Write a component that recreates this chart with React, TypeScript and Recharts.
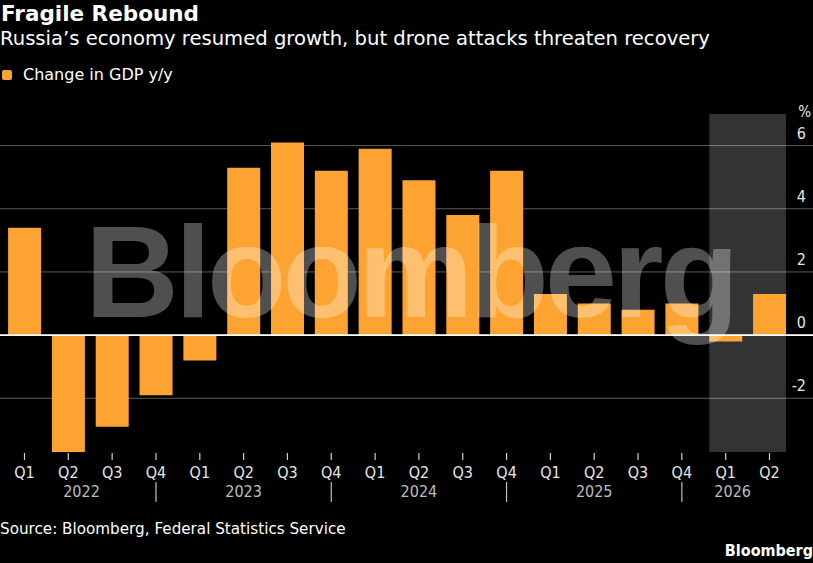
import React from 'react';
import {
  BarChart, Bar, XAxis, YAxis, CartesianGrid, ReferenceLine, ReferenceArea
} from 'recharts';

// Russia GDP, change y/y (%)
const quarters = ['Q1', 'Q2', 'Q3', 'Q4', 'Q1', 'Q2', 'Q3', 'Q4', 'Q1', 'Q2', 'Q3', 'Q4', 'Q1', 'Q2', 'Q3', 'Q4', 'Q1', 'Q2'];
const years = ['2022', '2022', '2022', '2022', '2023', '2023', '2023', '2023', '2024', '2024', '2024', '2024', '2025', '2025', '2025', '2025', '2026', '2026'];
const gdpChange = [3.4, -3.7, -2.9, -1.9, -0.8, 5.3, 6.1, 5.2, 5.9, 4.9, 3.8, 5.2, 1.3, 1.0, 0.8, 1.0, -0.2, 1.3];
const yTicks = [-2, 0, 2, 4, 6];
const yDomain = [-3.7, 7];
const shadedFrom = '2026 Q1';
const shadedTo = '2026 Q2';

const data = quarters.map((q, i) => ({
  key: `${years[i]} ${q}`,
  quarter: q,
  year: years[i],
  value: gdpChange[i],
}));

const FONT = '"DejaVu Sans", sans-serif';
const AXIS_FONT = '"DejaVu Sans Condensed", "DejaVu Sans", sans-serif';
const ORANGE = '#FCA331';

// where the year label sits (category key -> shift as a share of the band)
const yearLabelAt: Record<string, number> = {
  '2022 Q2': 0.3, '2023 Q2': 0, '2024 Q2': 0, '2025 Q2': 0, '2026 Q1': 0.16,
};
const BAND = 43.8;

const QuarterTick = (props: any) => {
  const { x, y, payload } = props;
  const row = data[payload.index];
  if (!row) return null;
  const shift = yearLabelAt[row.key];
  const isLast = payload.index === data.length - 1;
  return (
    <g>
      <line x1={x} x2={x} y1={y + 1} y2={y + 8} stroke="#cfcfcf" strokeWidth={1.2} />
      <text x={x} y={y + 26} textAnchor="middle" fill="#e6e6e6" fontSize={16} fontFamily={AXIS_FONT}>
        {row.quarter}
      </text>
      {shift !== undefined && (
        <text x={x + shift * BAND} y={y + 45} textAnchor="middle" fill="#bdbdbd" fontSize={16} fontFamily={AXIS_FONT}>
          {row.year}
        </text>
      )}
      {row.quarter === 'Q4' && !isLast && (
        <line x1={x} x2={x} y1={y + 30} y2={y + 50} stroke="#bdbdbd" strokeWidth={1.2} />
      )}
    </g>
  );
};

// shaded area hugs the bar edges rather than the band edges
const ShadedShape = (props: any) => {
  const { x, y, width, height } = props;
  const inset = (width / 2) * 0.125;
  return <rect x={x + inset} y={y} width={width - 2 * inset} height={height} fill="#ffffff" fillOpacity={0.2} />;
};

const App: React.FC = () => {
  return (
    <div style={{ position: 'absolute', left: 0, top: 0, width: 813, height: 563, background: '#000', overflow: 'hidden', fontFamily: FONT }}>
      <div style={{ position: 'absolute', left: 1, top: 1, color: '#fff', fontSize: 21.5, fontWeight: 'bold' }}>
        Fragile Rebound
      </div>
      <div style={{ position: 'absolute', left: 0, top: 27, color: '#fff', fontSize: 19.6 }}>
        Russia’s economy resumed growth, but drone attacks threaten recovery
      </div>
      <div style={{ position: 'absolute', left: 2, top: 65, color: '#fff', fontSize: 16, display: 'flex', alignItems: 'center' }}>
        <span style={{ display: 'inline-block', width: 10, height: 10, borderRadius: 2, background: ORANGE, marginRight: 11 }} />
        Change in GDP y/y
      </div>

      <div style={{ position: 'absolute', left: 0, top: 0 }}>
        <BarChart
          width={813}
          height={563}
          data={data}
          margin={{ top: 114, right: 0, bottom: 61, left: 0 }}
          barCategoryGap="12.5%"
        >
          <CartesianGrid vertical={false} horizontalValues={yTicks} stroke="#5c5c5c" strokeWidth={1} />
          <ReferenceArea x1={shadedFrom} x2={shadedTo} y1={yDomain[0]} y2={yDomain[1]} shape={ShadedShape} />
          <XAxis
            dataKey="key"
            interval={0}
            height={50}
            padding={{ left: 2.6, right: 21.6 }}
            axisLine={false}
            tickLine={false}
            tickSize={0}
            tickMargin={0}
            tick={<QuarterTick />}
          />
          <YAxis hide domain={yDomain} ticks={yTicks} allowDataOverflow />
          <Bar dataKey="value" fill={ORANGE} isAnimationActive={false} />
          <ReferenceLine y={0} stroke="#ffffff" strokeWidth={1.6} />
          {yTicks.map((v) => (
            <ReferenceLine
              key={v}
              y={v}
              stroke="none"
              label={{
                value: String(v),
                position: 'insideBottomRight',
                offset: 7,
                fill: '#e6e6e6',
                fontSize: 16,
                fontFamily: AXIS_FONT,
              }}
            />
          ))}
        </BarChart>
      </div>

      <svg width={813} height={563} style={{ position: 'absolute', left: 0, top: 0, pointerEvents: 'none' }}>
        <text x={811} y={117} textAnchor="end" fill="#e6e6e6" fontSize={15} fontFamily={AXIS_FONT}>%</text>
        <text x={85} y={317} fill="#ffffff" fillOpacity={0.31} fontSize={130} fontWeight="bold"
          fontFamily='"Liberation Sans", Arial, sans-serif' letterSpacing={-4}>
          Bloomberg
        </text>
      </svg>

      <div style={{ position: 'absolute', left: 0, top: 520, color: '#fff', fontSize: 15.2 }}>
        Source: Bloomberg, Federal Statistics Service
      </div>
      <div style={{ position: 'absolute', right: 0, top: 541, color: '#fff', fontSize: 16, fontWeight: 'bold', fontFamily: AXIS_FONT }}>
        Bloomberg
      </div>
    </div>
  );
};

export default App;
